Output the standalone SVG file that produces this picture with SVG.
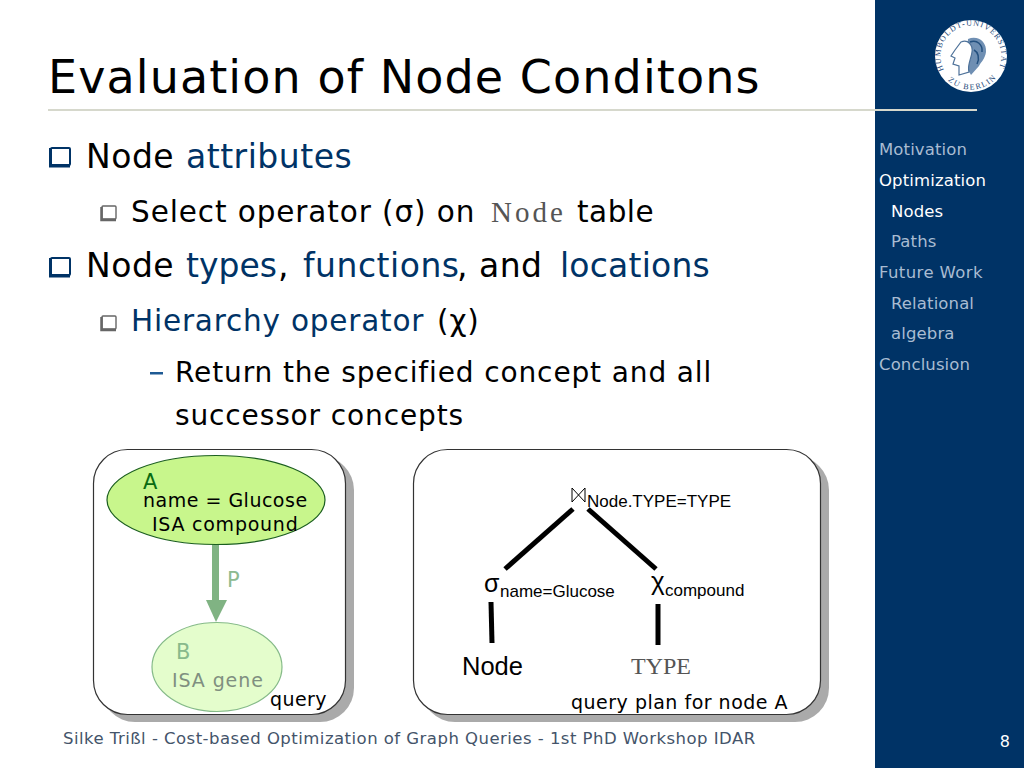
<svg xmlns="http://www.w3.org/2000/svg" xmlns:xlink="http://www.w3.org/1999/xlink" width="1024" height="768" viewBox="0 0 1024 768">
<style>
text{font-family:"DejaVu Sans",Verdana,sans-serif;fill:#000}
.blue{fill:#003366}
.l1{font-size:33px;letter-spacing:.5px}
.l2{font-size:29.500px;letter-spacing:.9px}
.l3{font-size:28px;letter-spacing:.87px}
.nav{font-size:16.500px;fill:#a9bcd2;letter-spacing:.12px}
.cur{fill:#fff}
.ar{font-family:"Liberation Sans",Arial,sans-serif}
.mono{font-family:"Liberation Serif","Courier New",serif;fill:#555}
.seal{font-family:"Liberation Serif",serif;font-size:8px;fill:#1f4a7a}
.panel{fill:#fff;stroke:#333;stroke-width:1.2}
.shadow{fill:#aaa}
.edge{stroke:#000;stroke-width:5;fill:none}
.b1{fill:#fff;stroke:#003366;stroke-width:2}
.b2{fill:#fff;stroke:#666;stroke-width:1.4}
.t19{font-size:19px}
</style>
<defs>
<path id="sealTop" d="M944 70A30.400 30.400 0 1 1 998 70"/>
<path id="sealBot" d="M944 76A33.600 33.600 0 0 0 998 76"/>
</defs>
<rect width="1024" height="768" fill="#fff"/>
<g id="sidebar">
<rect x="875" width="149" height="768" fill="#003366"/>
<rect x="48" y="109" width="929" height="2" fill="#d6d8cc"/>
<text x="879" y="155" class="nav">Motivation</text>
<text x="879" y="186" class="nav cur">Optimization</text>
<text x="891" y="217" class="nav cur">Nodes</text>
<text x="891" y="247" class="nav">Paths</text>
<text x="879" y="278" class="nav" style="letter-spacing:.4px">Future Work</text>
<text x="891" y="309" class="nav">Relational</text>
<text x="891" y="339" class="nav">algebra</text>
<text x="879" y="370" class="nav">Conclusion</text>
<text x="1010" y="747" text-anchor="end" style="font-size:16px;fill:#fff">8</text>
</g>
<g id="logo">
<circle cx="971" cy="56" r="36" fill="#fff"/>
<text class="seal" style="letter-spacing:1.100px"><textPath xlink:href="#sealTop">HUMBOLDT-UNIVERSITÄT</textPath></text>
<text class="seal" style="letter-spacing:1.500px"><textPath xlink:href="#sealBot" startOffset="6">ZU BERLIN</textPath></text>
<path d="M968 39C978 35 987 42 986 52C985 59 981 62 979 66L971 75L966 66Z" fill="#6f8fb3"/>
<path d="M961 42C968 39 973 45 972 52C971 60 967 65 969 72L959 75L959 66L953 64L955 58L951 56L955 50Z" fill="#fff" stroke="#4d7199" stroke-width="1.200"/>
<path d="M970 42C977 39 983 45 982 52M974 50C978 52 980 58 977 64" fill="none" stroke="#23507f" stroke-width="1.500"/>
</g>
<g id="title">
<text x="48" y="93" style="font-size:46px;letter-spacing:1.100px">Evaluation of Node Conditons</text>
</g>
<g id="bullets">
<rect class="b1" x="51" y="148" width="19" height="17" rx="1"/>
<path d="M50.500 148V166H70" fill="none" stroke="#003366" stroke-width="3"/>
<text x="86" y="168" class="l1">Node <tspan x="186" class="blue">attributes</tspan></text>
<rect class="b2" x="102" y="206" width="14" height="13" rx="1"/>
<path d="M101.500 207V220H116" fill="none" stroke="#666" stroke-width="2.500"/>
<text x="131" y="222" class="l2">Select operator (σ) on <tspan x="491" class="mono" style="font-size:29px;letter-spacing:3px">Node</tspan><tspan x="577" style="letter-spacing:.5px">table</tspan></text>
<rect class="b1" x="51" y="258" width="19" height="17" rx="1"/>
<path d="M50.500 258V276H70" fill="none" stroke="#003366" stroke-width="3"/>
<text x="86" y="277" class="l1">Node <tspan x="186" class="blue" style="letter-spacing:0">types</tspan><tspan x="278">,</tspan><tspan x="303" class="blue">functions</tspan><tspan x="457">, and</tspan><tspan x="560" class="blue" style="letter-spacing:.2px">locations</tspan></text>
<rect class="b2" x="102" y="316" width="14" height="13" rx="1"/>
<path d="M101.500 317V330H116" fill="none" stroke="#666" stroke-width="2.500"/>
<text x="131" y="331" class="l2"><tspan class="blue" style="letter-spacing:.8px">Hierarchy operator</tspan><tspan x="437">(χ)</tspan></text>
<rect x="150" y="372" width="13" height="2.500" fill="#1e5a94"/>
<text x="175" y="382" class="l3">Return the specified concept and all</text>
<text x="175" y="425" class="l3">successor concepts</text>
</g>
<g id="query-panel">
<rect class="shadow" x="101" y="456" width="253" height="266" rx="34"/>
<rect class="panel" x="93.500" y="449.500" width="252" height="265" rx="34"/>
</g>
<g id="plan-panel">
<rect class="shadow" x="421" y="456" width="408" height="266" rx="34"/>
<rect class="panel" x="413.500" y="449.500" width="407" height="265" rx="34"/>
</g>
<g id="connectors">
<path d="M215.500 544V600" stroke="#80b383" stroke-width="7" fill="none"/>
<path d="M206 600H227L216 622Z" fill="#80b383"/>
<path class="edge" d="M573 509L505 569"/>
<path class="edge" d="M588 509L656 569"/>
<path class="edge" d="M491 602L492 643"/>
<path class="edge" d="M658 604V645"/>
</g>
<g id="node-a">
<ellipse cx="216" cy="500" rx="109" ry="44.500" fill="#c8f68c" stroke="#1b5e20" stroke-width="1.200"/>
<text x="143" y="489" style="font-size:21px;fill:#0a6b12">A</text>
<text x="143" y="507" class="t19" style="letter-spacing:.5px">name = Glucose</text>
<text x="152" y="531" class="t19" style="letter-spacing:.75px">ISA compound</text>
</g>
<g id="edge-label-p">
<text x="227" y="587" style="font-size:21px;fill:#8dba90">P</text>
</g>
<g id="node-b">
<ellipse cx="217" cy="667" rx="65" ry="44.500" fill="#e4fdcc" stroke="#85ba88" stroke-width="1.200"/>
<text x="176" y="659" style="font-size:21px;fill:#88b98b">B</text>
<text x="172" y="687" class="t19" style="fill:#7f8f80;letter-spacing:.9px">ISA gene</text>
</g>
<text x="270" y="706" class="t19" style="letter-spacing:.4px">query</text>
<g id="join">
<path d="M572 488V502L585 488V502Z" fill="none" stroke="#000" stroke-width="1"/>
<text x="587" y="507" class="ar" style="font-size:17px">Node.TYPE=TYPE</text>
</g>
<g id="select">
<text x="484" y="592" class="ar" style="font-size:25px">σ</text>
<text x="500" y="597" class="ar" style="font-size:17px">name=Glucose</text>
</g>
<g id="hierarchy">
<text x="651" y="590" class="ar" style="font-size:26px">χ</text>
<text x="665" y="596" class="ar" style="font-size:17px">compound</text>
</g>
<g id="node-table">
<text x="462" y="675" class="ar" style="font-size:25.500px">Node</text>
</g>
<g id="type-table">
<text x="631" y="674" class="mono" style="font-size:24px">TYPE</text>
</g>
<text x="571" y="709" class="t19" style="letter-spacing:.5px">query plan for node A</text>
<g id="footer">
<text x="63" y="744" style="font-size:16.500px;fill:#44546a;letter-spacing:.47px">Silke Trißl - Cost-based Optimization of Graph Queries - 1st PhD Workshop IDAR</text>
</g>
</svg>
